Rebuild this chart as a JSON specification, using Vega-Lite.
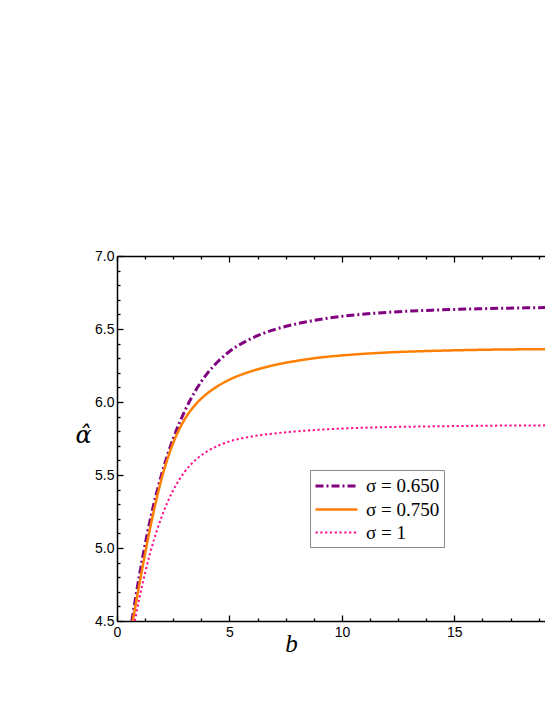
{
  "$schema": "https://vega.github.io/schema/vega-lite/v6.json",
  "autosize": "none",
  "width": 428,
  "height": 365,
  "padding": {"left": 117, "top": 256, "right": 0, "bottom": 84},
  "background": "white",
  "config": {"view": {"stroke": null}},
  "data": {"values": [
    {"b": 0.66, "a": 4.5, "s": "σ = 0.650"},
    {"b": 1.0, "a": 4.816, "s": "σ = 0.650"},
    {"b": 1.5, "a": 5.209, "s": "σ = 0.650"},
    {"b": 2.0, "a": 5.513, "s": "σ = 0.650"},
    {"b": 2.5, "a": 5.749, "s": "σ = 0.650"},
    {"b": 3.0, "a": 5.934, "s": "σ = 0.650"},
    {"b": 3.5, "a": 6.08, "s": "σ = 0.650"},
    {"b": 4.0, "a": 6.193, "s": "σ = 0.650"},
    {"b": 4.5, "a": 6.279, "s": "σ = 0.650"},
    {"b": 5.0, "a": 6.346, "s": "σ = 0.650"},
    {"b": 6.0, "a": 6.437, "s": "σ = 0.650"},
    {"b": 7.0, "a": 6.496, "s": "σ = 0.650"},
    {"b": 8.0, "a": 6.536, "s": "σ = 0.650"},
    {"b": 9.0, "a": 6.565, "s": "σ = 0.650"},
    {"b": 10.0, "a": 6.587, "s": "σ = 0.650"},
    {"b": 12.0, "a": 6.614, "s": "σ = 0.650"},
    {"b": 14.0, "a": 6.629, "s": "σ = 0.650"},
    {"b": 16.0, "a": 6.638, "s": "σ = 0.650"},
    {"b": 19.1, "a": 6.647, "s": "σ = 0.650"},
    {"b": 0.7, "a": 4.5, "s": "σ = 0.750"},
    {"b": 1.0, "a": 4.756, "s": "σ = 0.750"},
    {"b": 1.5, "a": 5.156, "s": "σ = 0.750"},
    {"b": 2.0, "a": 5.484, "s": "σ = 0.750"},
    {"b": 2.5, "a": 5.72, "s": "σ = 0.750"},
    {"b": 3.0, "a": 5.879, "s": "σ = 0.750"},
    {"b": 3.5, "a": 5.984, "s": "σ = 0.750"},
    {"b": 4.0, "a": 6.057, "s": "σ = 0.750"},
    {"b": 4.5, "a": 6.111, "s": "σ = 0.750"},
    {"b": 5.0, "a": 6.153, "s": "σ = 0.750"},
    {"b": 6.0, "a": 6.212, "s": "σ = 0.750"},
    {"b": 7.0, "a": 6.253, "s": "σ = 0.750"},
    {"b": 8.0, "a": 6.282, "s": "σ = 0.750"},
    {"b": 9.0, "a": 6.304, "s": "σ = 0.750"},
    {"b": 10.0, "a": 6.319, "s": "σ = 0.750"},
    {"b": 12.0, "a": 6.339, "s": "σ = 0.750"},
    {"b": 14.0, "a": 6.35, "s": "σ = 0.750"},
    {"b": 16.0, "a": 6.357, "s": "σ = 0.750"},
    {"b": 19.1, "a": 6.362, "s": "σ = 0.750"},
    {"b": 0.79, "a": 4.5, "s": "σ = 1"},
    {"b": 1.0, "a": 4.66, "s": "σ = 1"},
    {"b": 1.5, "a": 4.98, "s": "σ = 1"},
    {"b": 2.0, "a": 5.22, "s": "σ = 1"},
    {"b": 2.5, "a": 5.396, "s": "σ = 1"},
    {"b": 3.0, "a": 5.52, "s": "σ = 1"},
    {"b": 3.5, "a": 5.604, "s": "σ = 1"},
    {"b": 4.0, "a": 5.661, "s": "σ = 1"},
    {"b": 4.5, "a": 5.701, "s": "σ = 1"},
    {"b": 5.0, "a": 5.73, "s": "σ = 1"},
    {"b": 6.0, "a": 5.764, "s": "σ = 1"},
    {"b": 7.0, "a": 5.785, "s": "σ = 1"},
    {"b": 8.0, "a": 5.799, "s": "σ = 1"},
    {"b": 9.0, "a": 5.81, "s": "σ = 1"},
    {"b": 10.0, "a": 5.818, "s": "σ = 1"},
    {"b": 12.0, "a": 5.828, "s": "σ = 1"},
    {"b": 14.0, "a": 5.833, "s": "σ = 1"},
    {"b": 16.0, "a": 5.837, "s": "σ = 1"},
    {"b": 19.1, "a": 5.84, "s": "σ = 1"}
  ]},
  "resolve": {"axis": {"x": "independent", "y": "independent"}},
  "layer": [
    {
      "mark": {"type": "line", "clip": true, "interpolate": "monotone"},
      "encoding": {
        "x": {"field": "b", "type": "quantitative", "scale": {"domain": [0, 19.03], "nice": false, "zero": false},
          "axis": {"orient": "bottom", "title": "b", "titleFont": "Liberation Serif", "titleFontStyle": "italic", "titleFontWeight": "normal", "titleFontSize": 25, "titleColor": "black", "titleX": 174, "titleY": 22, "titleAlign": "center", "titleBaseline": "middle",
            "values": [0, 1.25, 2.5, 3.75, 5, 6.25, 7.5, 8.75, 10, 11.25, 12.5, 13.75, 15, 16.25, 17.5, 18.75],
            "labelExpr": "datum.value % 5 == 0 ? datum.label : ''",
            "format": "d", "labelFont": "Liberation Sans", "labelFontSize": 14, "labelColor": "black", "labelPadding": 10,
            "tickSize": {"condition": {"test": "datum.value % 5 == 0", "value": -6}, "value": -3},
            "tickColor": "black", "tickWidth": 1.3, "domainColor": "black", "domainWidth": 1.5, "grid": false, "labelFlush": false, "labelOverlap": false}},
        "y": {"field": "a", "type": "quantitative", "scale": {"domain": [4.5, 7.0], "nice": false, "zero": false},
          "axis": {"orient": "left", "title": "α̂", "titleFont": "DejaVu Serif", "titleFontStyle": "italic", "titleFontWeight": "normal", "titleFontSize": 24, "titleColor": "black", "titleAngle": 0, "titleX": -34, "titleY": 179, "titleAlign": "center", "titleBaseline": "middle",
            "values": [4.5, 4.6, 4.7, 4.8, 4.9, 5.0, 5.1, 5.2, 5.3, 5.4, 5.5, 5.6, 5.7, 5.8, 5.9, 6.0, 6.1, 6.2, 6.3, 6.4, 6.5, 6.6, 6.7, 6.8, 6.9, 7.0],
            "labelExpr": "abs(datum.value*2 - round(datum.value*2)) < 0.01 ? format(datum.value, '.1f') : ''",
            "labelFont": "Liberation Sans", "labelFontSize": 14, "labelColor": "black", "labelPadding": 9,
            "tickSize": {"condition": {"test": "abs(datum.value*2 - round(datum.value*2)) < 0.01", "value": -6}, "value": -3},
            "tickColor": "black", "tickWidth": 1.3, "domainColor": "black", "domainWidth": 1.5, "grid": false, "labelFlush": false, "labelOverlap": false}},
        "color": {"field": "s", "type": "nominal", "scale": {"domain": ["σ = 0.650", "σ = 0.750", "σ = 1"], "range": ["#800080", "#ff8000", "#ff0a8c"]},
          "legend": {"title": null, "orient": "none", "legendX": 193, "legendY": 214, "symbolType": "M-1,0H3", "symbolSize": 441, "symbolOffset": 0, "labelOffset": 28, "labelFont": "Liberation Serif", "labelFontSize": 19, "labelColor": "black", "rowPadding": 1.5, "padding": 4, "strokeColor": "#888", "fillColor": "white", "labelLimit": 200}},
        "strokeDash": {"field": "s", "type": "nominal", "scale": {"domain": ["σ = 0.650", "σ = 0.750", "σ = 1"], "range": [[8, 3, 2, 3], [1, 0], [2.2, 2.6]]}},
        "strokeWidth": {"field": "s", "type": "nominal", "scale": {"domain": ["σ = 0.650", "σ = 0.750", "σ = 1"], "range": [3, 2, 2.8]}}
      }
    },
    {
      "mark": {"type": "line", "clip": true, "opacity": 0},
      "encoding": {
        "x": {"field": "b", "type": "quantitative",
          "axis": {"orient": "top", "title": null, "labels": false,
            "values": [0, 1.25, 2.5, 3.75, 5, 6.25, 7.5, 8.75, 10, 11.25, 12.5, 13.75, 15, 16.25, 17.5, 18.75],
            "tickSize": {"condition": {"test": "datum.value % 5 == 0", "value": -6}, "value": -3},
            "tickColor": "black", "tickWidth": 1.3, "domainColor": "black", "domainWidth": 1.5, "grid": false}},
        "y": {"field": "a", "type": "quantitative", "axis": null}
      }
    }
  ]
}
